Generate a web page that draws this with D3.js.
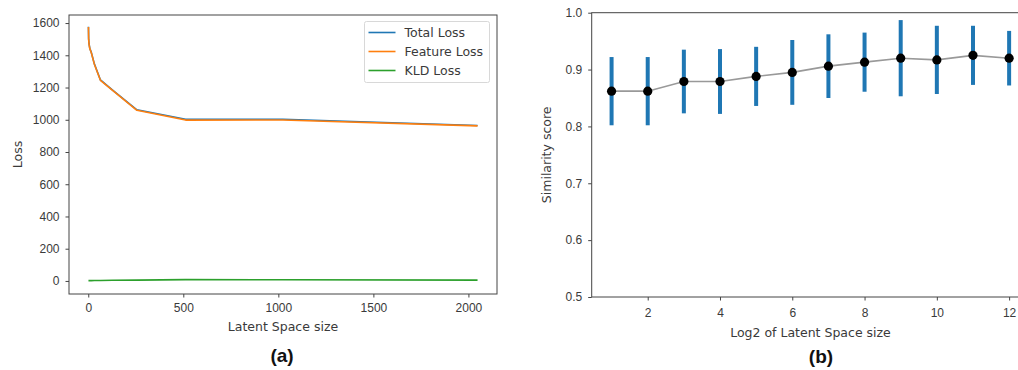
<!DOCTYPE html>
<html>
<head>
<meta charset="utf-8">
<script src="https://cdn.jsdelivr.net/npm/d3@7"></script>
<style>
  html, body { margin: 0; padding: 0; background: #fff; }
  svg { display: block; font-family: "DejaVu Sans", sans-serif; }
  .tick text { font-size: 12px; fill: #3a3a3a; }
  .tick line { stroke: #444; }
  .axis-label { font-size: 12.5px; fill: #3a3a3a; }
  .panel-label { font-family: "Liberation Sans", Arial, sans-serif; font-weight: bold; font-size: 19px; fill: #111; }
</style>
</head>
<body>
<svg id="chart" width="1018" height="370"></svg>
<script>
// ---- panel (a): loss vs latent space size ----
const latentSizes = [1, 2, 4, 8, 16, 32, 64, 128, 256, 512, 1024, 2048];
const totalLoss   = [1577, 1502, 1472, 1444, 1418, 1347, 1247, 1184, 1062, 1003, 1003, 964];
const featureLoss = [1575, 1500, 1470, 1442, 1416, 1345, 1245, 1182, 1059, 998, 999, 962];
const kldLoss     = [2, 2, 2, 2, 2, 3, 3, 4, 5, 8, 7, 5];
const lossTicksY  = [0, 200, 400, 600, 800, 1000, 1200, 1400, 1600];
const lossTicksX  = [0, 500, 1000, 1500, 2000];
const lossSeries  = ['Total Loss', 'Feature Loss', 'KLD Loss'];

// ---- panel (b): similarity vs log2 latent size ----
const log2Sizes = [1, 2, 3, 4, 5, 6, 7, 8, 9, 10, 11, 12];
const simMean   = [0.862, 0.862, 0.879, 0.879, 0.888, 0.895, 0.906, 0.913, 0.920, 0.917, 0.925, 0.920];
const simErr    = [0.060, 0.060, 0.056, 0.057, 0.052, 0.057, 0.056, 0.052, 0.067, 0.060, 0.052, 0.048];
const simTicksY = [0.5, 0.6, 0.7, 0.8, 0.9, 1.0];
const simTicksX = [2, 4, 6, 8, 10, 12];

const colors = { blue: '#1f77b4', orange: '#ff7f0e', green: '#2ca02c', frame: '#444' };

const svg = d3.select('#chart');

// frame + axes helper
function drawAxes(g, x, y, box, opts) {
  g.append('g')
    .attr('transform', `translate(0,${box.bottom})`)
    .call(d3.axisBottom(x).tickValues(opts.xTicks).tickSize(3.5).tickPadding(opts.xPad).tickFormat(opts.xFmt))
    .call(a => a.select('.domain').remove());
  g.append('g')
    .attr('transform', `translate(${box.left},0)`)
    .call(d3.axisLeft(y).tickValues(opts.yTicks).tickSize(3.5).tickPadding(6).tickFormat(opts.yFmt))
    .call(a => a.select('.domain').remove());
  g.selectAll('.tick text').attr('font-family', null).attr('font-size', null);
  g.append('rect')
    .attr('x', box.left).attr('y', box.top)
    .attr('width', box.right - box.left).attr('height', box.bottom - box.top)
    .attr('fill', 'none').attr('stroke', colors.frame).attr('stroke-width', 1);
}

// ============================================
// Panel (a)
// ============================================
const boxA = { left: 69, right: 497, top: 15, bottom: 294 };
const xA = d3.scaleLinear().domain([-101.35, 2150.35]).range([boxA.left, boxA.right]);
const yA = d3.scaleLinear().domain([-81, 1650]).range([boxA.bottom, boxA.top]);
const gA = svg.append('g');

const lossData = [totalLoss, featureLoss, kldLoss];
const lossColors = [colors.blue, colors.orange, colors.green];
const lineA = d3.line().x((d, i) => xA(latentSizes[i])).y(d => yA(d));

lossData.forEach((vals, k) => {
  gA.append('path')
    .datum(vals)
    .attr('d', lineA)
    .attr('fill', 'none')
    .attr('stroke', lossColors[k])
    .attr('stroke-width', 1.6)
    .attr('stroke-linejoin', 'round');
});

drawAxes(gA, xA, yA, boxA, {
  xTicks: lossTicksX, yTicks: lossTicksY, xPad: 5.5,
  xFmt: d3.format('d'), yFmt: d3.format('d')
});

// legend
const leg = gA.append('g').attr('transform', 'translate(364.5,21.5)');
leg.append('rect')
  .attr('width', 125).attr('height', 61).attr('rx', 2)
  .attr('fill', '#fff').attr('stroke', '#d8d8d8').attr('stroke-width', 1);
lossSeries.forEach((name, i) => {
  const yy = 11 + i * 19;
  leg.append('line')
    .attr('x1', 4).attr('x2', 31).attr('y1', yy).attr('y2', yy)
    .attr('stroke', lossColors[i]).attr('stroke-width', 1.6);
  leg.append('text')
    .attr('class', 'axis-label')
    .attr('x', 40).attr('y', yy).attr('dy', '0.36em')
    .text(name);
});

gA.append('text').attr('class', 'axis-label')
  .attr('x', (boxA.left + boxA.right) / 2).attr('y', 331)
  .attr('text-anchor', 'middle').text('Latent Space size');
gA.append('text').attr('class', 'axis-label')
  .attr('transform', `translate(21.5,${(boxA.top + boxA.bottom) / 2}) rotate(-90)`)
  .attr('text-anchor', 'middle').text('Loss');
gA.append('text').attr('class', 'panel-label')
  .attr('x', 282).attr('y', 362).attr('text-anchor', 'middle').text('(a)');

// ============================================
// Panel (b)
// ============================================
const boxB = { left: 591.7, right: 1029, top: 12.7, bottom: 297 };
const xB = d3.scaleLinear().domain([0.45, 12.55]).range([boxB.left, boxB.right]);
const yB = d3.scaleLinear().domain([0.5, 1.0]).range([boxB.bottom, boxB.top]);
const gB = svg.append('g');

// error bars
gB.selectAll('line.err')
  .data(log2Sizes)
  .join('line')
  .attr('class', 'err')
  .attr('x1', d => xB(d)).attr('x2', d => xB(d))
  .attr('y1', (d, i) => yB(simMean[i] - simErr[i]))
  .attr('y2', (d, i) => yB(simMean[i] + simErr[i]))
  .attr('stroke', colors.blue)
  .attr('stroke-width', 4);

gB.append('path')
  .datum(simMean)
  .attr('d', d3.line().x((d, i) => xB(log2Sizes[i])).y(d => yB(d)))
  .attr('fill', 'none')
  .attr('stroke', '#999')
  .attr('stroke-width', 1.6);

gB.selectAll('circle')
  .data(simMean)
  .join('circle')
  .attr('cx', (d, i) => xB(log2Sizes[i]))
  .attr('cy', d => yB(d))
  .attr('r', 4.6)
  .attr('fill', '#000');

drawAxes(gB, xB, yB, boxB, {
  xTicks: simTicksX, yTicks: simTicksY, xPad: 7.5,
  xFmt: d3.format('d'), yFmt: d3.format('.1f')
});

gB.append('text').attr('class', 'axis-label')
  .attr('x', 810.5).attr('y', 336.5)
  .attr('text-anchor', 'middle').text('Log2 of Latent Space size');
gB.append('text').attr('class', 'axis-label')
  .attr('transform', `translate(551,${(boxB.top + boxB.bottom) / 2}) rotate(-90)`)
  .attr('text-anchor', 'middle').text('Similarity score');
gB.append('text').attr('class', 'panel-label')
  .attr('x', 821).attr('y', 363).attr('text-anchor', 'middle').text('(b)');
</script>
</body>
</html>
